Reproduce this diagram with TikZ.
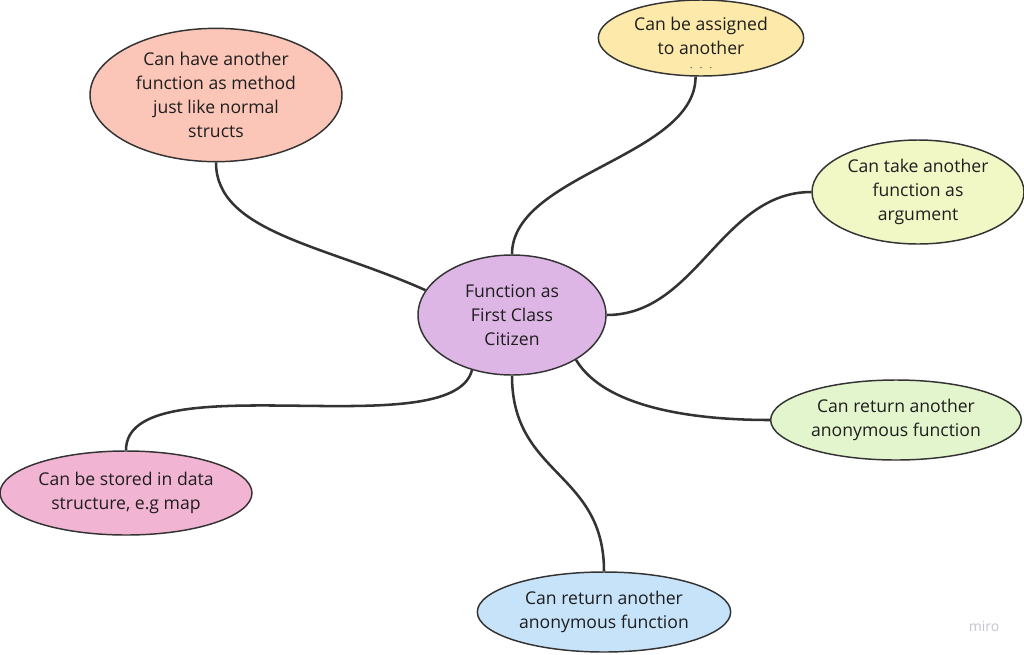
\documentclass[tikz,border=0pt]{standalone}
\usepackage{fontspec}
\setmainfont{Open Sans}
\usetikzlibrary{shapes.geometric}
\definecolor{hubfill}{HTML}{DEB6E6}
\definecolor{yellowfill}{HTML}{FDE9AA}
\definecolor{salmonfill}{HTML}{FBC5B8}
\definecolor{limefill}{HTML}{F1F7C5}
\definecolor{greenfill}{HTML}{E3F5CC}
\definecolor{bluefill}{HTML}{C6E3FA}
\definecolor{pinkfill}{HTML}{F2B4D3}
\definecolor{linkgray}{HTML}{333333}
\definecolor{inkgray}{HTML}{1E1E1E}
\definecolor{mirogray}{HTML}{C4C4D2}

\tikzset{
  bubble/.style={ellipse, draw=linkgray, line width=1.1pt, inner sep=0pt,
    align=center, text=inkgray, font=\fontsize{13.2}{18}\selectfont},
  link/.style={draw=linkgray, line width=1.9pt}
}

\begin{document}
\begin{tikzpicture}[x=0.75pt, y=-0.75pt]
  \useasboundingbox (0,0) rectangle (1024,654);

  % Central idea
  \node[bubble, fill=hubfill, minimum width=141pt, minimum height=90pt] (hub) at (512,315)
    {Function as\\First Class\\Citizen};

  % Surrounding ideas
  \node[bubble, fill=salmonfill, minimum width=189pt, minimum height=100pt] (method) at (216,95)
    {Can have another\\function as method\\just like normal\\structs};
  \node[bubble, fill=yellowfill, minimum width=154pt, minimum height=57pt] (assign) at (701,38)
    {\raisebox{-8pt}[0pt][0pt]{\begin{tabular}{@{}c@{}}Can be assigned\\to another\\[-8pt]
      {\fontsize{7}{7}\selectfont.\ \ \ .\ \ \ .}\end{tabular}}};
  \node[bubble, fill=limefill, minimum width=159pt, minimum height=78pt] (argument) at (918,192)
    {Can take another\\function as\\argument};
  \node[bubble, fill=greenfill, minimum width=188pt, minimum height=60pt] (returnright) at (896,420)
    {Can return another\\anonymous function};
  \node[bubble, fill=bluefill, minimum width=190pt, minimum height=60pt] (returnbottom) at (604,612)
    {Can return another\\anonymous function};
  \node[bubble, fill=pinkfill, minimum width=189pt, minimum height=63pt] (stored) at (126,493)
    {Can be stored in data\\structure, e.g map};

  % Branches
  \draw[link] (hub.164) .. controls +(-100,-45) and +(0,70) .. (method.south);
  \draw[link] (hub.north) .. controls +(0,-80) and +(0,80) .. (assign.262);
  \draw[link] (hub.east) .. controls +(90,0) and +(-90,0) .. (argument.west);
  \draw[link] (hub.325) .. controls +(30,50) and +(-70,0) .. (returnright.west);
  \draw[link] (hub.south) .. controls +(0,100) and +(0,-100) .. (returnbottom.north);
  \draw[link] (hub.234) .. controls +(-20,78) and +(0,-90) .. (stored.north);

  % Watermark
  \node[text=mirogray, font=\fontsize{10.5}{10.5}\selectfont] (mark) at (984,626) {miro};
\end{tikzpicture}
\end{document}
